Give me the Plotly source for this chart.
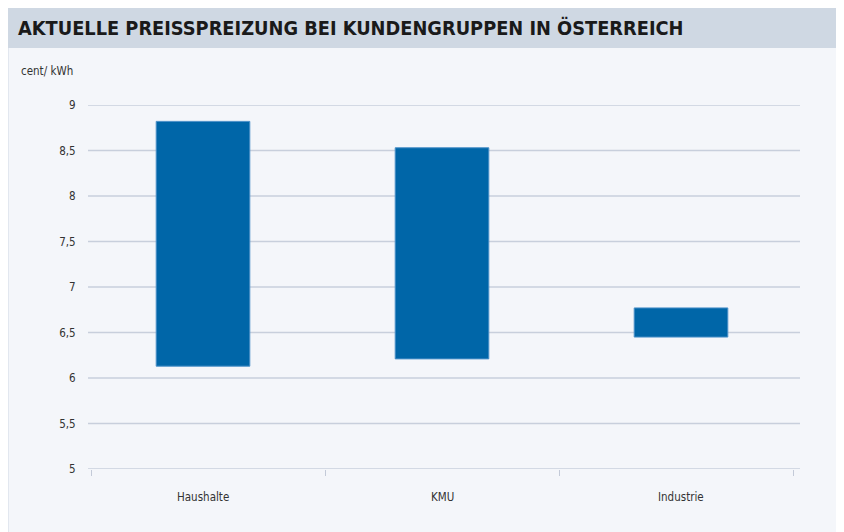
import plotly.graph_objects as go

categories = ["Haushalte", "KMU", "Industrie"]
low_values = [6.13, 6.21, 6.45]
high_values = [8.82, 8.53, 6.77]
y_ticks = [5, 5.5, 6, 6.5, 7, 7.5, 8, 8.5, 9]
y_tick_labels = ["5", "5,5", "6", "6,5", "7", "7,5", "8", "8,5", "9"]

# page body has an 8px default margin; work in screen pixels and offset
OFF = 8
W, H = 844 - OFF, 532 - OFF
# plot area in screen pixels
X0, X1, Y0, Y1 = 91, 793, 105, 469
L, R, T, B = X0 - OFF, W - (X1 - OFF), Y0 - OFF, H - (Y1 - OFF)
PW, PH = X1 - X0, Y1 - Y0
CAT_PX = PW / len(categories)
BAR_W = 0.4
SHIFT_PX = [-5, 0, 5]  # bars sit slightly off the category centres

def px(x):
    return (x - X0) / PW

def py(y):
    return (Y1 - y) / PH

FONT = "Liberation Sans Narrow, DejaVu Sans Condensed, Arial Narrow, sans-serif"
GRID = "#c8cfdc"

fig = go.Figure()
fig.add_trace(go.Bar(
    x=categories,
    y=[h - l for h, l in zip(high_values, low_values)],
    base=low_values,
    width=BAR_W,
    offset=[-BAR_W / 2 + s / CAT_PX for s in SHIFT_PX],
    marker=dict(color="#0066a8", line=dict(color="#4a90c8", width=1)),
    hoverinfo="skip",
))

shapes = [
    dict(type="line", xref="paper", yref="paper", layer="below",
         x0=px(8.5), x1=px(8.5), y0=py(H + 20), y1=py(48),
         line=dict(color="#e2e7ef", width=1)),
    dict(type="rect", xref="paper", yref="paper", layer="below",
         x0=px(0), x1=px(900), y0=py(48), y1=py(0),
         fillcolor="#cfd8e3", line=dict(width=0)),
]
for v in y_ticks:
    shapes.append(dict(type="line", xref="paper", yref="y", layer="below",
                       x0=px(88), x1=px(800), y0=v, y1=v,
                       line=dict(color=GRID, width=1.5)))

annotations = [
    dict(text="<b>AKTUELLE PREISSPREIZUNG BEI KUNDENGRUPPEN IN ÖSTERREICH</b>",
         xref="paper", yref="paper", x=px(16), y=py(28),
         xanchor="left", yanchor="middle", showarrow=False,
         font=dict(family=FONT, size=19.8, color="#1a1a1a")),
    dict(text="cent/ kWh",
         xref="paper", yref="paper", x=px(19), y=py(71),
         xanchor="left", yanchor="middle", showarrow=False,
         font=dict(family=FONT, size=11.5, color="#333333")),
]
for c, s in zip(categories, SHIFT_PX):
    annotations.append(dict(text=c, xref="x", yref="paper", x=c, y=py(497),
                            xshift=s, xanchor="center", yanchor="middle",
                            showarrow=False,
                            font=dict(family=FONT, size=11.5, color="#333333")))

fig.update_layout(
    width=W, height=H,
    margin=dict(l=L, r=R, t=T, b=B),
    paper_bgcolor="#f4f6fa",
    plot_bgcolor="#f4f6fa",
    showlegend=False,
    font=dict(family=FONT, size=12, color="#333333"),
    xaxis=dict(
        type="category",
        tickson="boundaries",
        ticks="outside", ticklen=6, tickcolor="#c3cad8", tickwidth=1,
        showgrid=False, showline=False,
        showticklabels=False,
    ),
    yaxis=dict(
        range=[5, 9],
        tickvals=y_ticks,
        ticktext=y_tick_labels,
        showgrid=False,
        zeroline=False,
        showline=False,
        ticks="outside", ticklen=4, tickcolor="rgba(0,0,0,0)",
        ticklabelstandoff=8,
        tickfont=dict(family=FONT, size=11.5, color="#333333"),
    ),
    shapes=shapes,
    annotations=annotations,
)

fig.write_html("out.html")
